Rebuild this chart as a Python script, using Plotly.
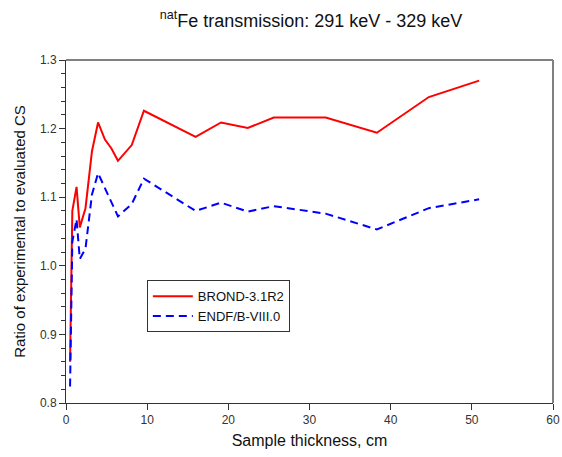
import plotly.graph_objects as go

thickness = [0.5, 0.78, 1.3, 1.7, 2.4, 3.2, 3.95, 4.8, 5.6, 6.4, 8.1, 9.6,
             15.97, 19.1, 22.4, 25.6, 32.0, 38.3, 44.7, 50.9]
brond = [0.86, 1.08, 1.115, 1.056, 1.084, 1.167, 1.209, 1.184, 1.171, 1.153, 1.176, 1.226,
         1.188, 1.209, 1.201, 1.216, 1.216, 1.194, 1.246, 1.270]
endf = [0.824, 1.035, 1.068, 1.01, 1.025, 1.104, 1.135, 1.113, 1.092, 1.072, 1.09, 1.127,
        1.080, 1.092, 1.079, 1.087, 1.076, 1.053, 1.084, 1.097]

xticks = [0, 10, 20, 30, 40, 50, 60]
yticks = [0.8, 0.9, 1.0, 1.1, 1.2, 1.3]

font_family = "Liberation Sans, Arial, sans-serif"

fig = go.Figure()
fig.add_trace(go.Scatter(x=thickness, y=brond, mode="lines", name="BROND-3.1R2",
                         line=dict(color="#ff0000", width=2)))
fig.add_trace(go.Scatter(x=thickness, y=endf, mode="lines", name="ENDF/B-VIII.0",
                         line=dict(color="#0000ff", width=2, dash="8px,5px")))

fig.update_layout(
    width=562, height=457,
    margin=dict(l=66, r=9, t=60, b=54, autoexpand=False),
    paper_bgcolor="white", plot_bgcolor="white",
    font=dict(family=font_family, size=12, color="#222"),
    title=dict(text="<sup>nat</sup>Fe transmission: 291 keV - 329 keV",
               x=311 / 562, xanchor="center", y=0.955, yanchor="middle",
               font=dict(size=18, color="#111")),
    showlegend=True,
    legend=dict(x=0.166, y=0.358, xanchor="left", yanchor="top",
                bgcolor="white", bordercolor="#333", borderwidth=1,
                font=dict(size=13, color="#111"), tracegroupgap=0,
                itemwidth=40),
    xaxis=dict(range=[0, 60], tickvals=xticks, ticks="outside", ticklen=6, tickwidth=1,
               tickcolor="#333", showline=True, linecolor="#333", linewidth=1,
               showgrid=False, zeroline=False, automargin=False,
               title=dict(text="Sample thickness, cm", font=dict(size=16, color="#111"), standoff=8),
               tickfont=dict(size=12, color="#333")),
    yaxis=dict(range=[0.8, 1.3], tickvals=yticks, tickformat=".1f", ticks="outside", ticklen=6,
               tickwidth=1, tickcolor="#333", showline=True, linecolor="#333", linewidth=1,
               showgrid=False, zeroline=False, automargin=False,
               minor=dict(dtick=0.02, ticks="outside", ticklen=4, tickcolor="#333", showgrid=False),
               title=dict(text="Ratio of experimental to evaluated CS", font=dict(size=15, color="#111"), standoff=10),
               tickfont=dict(size=12, color="#333")),
    shapes=[
        dict(type="line", xref="paper", yref="paper", x0=0, x1=1, y0=1, y1=1,
             line=dict(color="#808080", width=2)),
        dict(type="line", xref="paper", yref="paper", x0=1, x1=1, y0=0, y1=1,
             line=dict(color="#808080", width=2)),
    ],
)

fig.write_html("out.html")
